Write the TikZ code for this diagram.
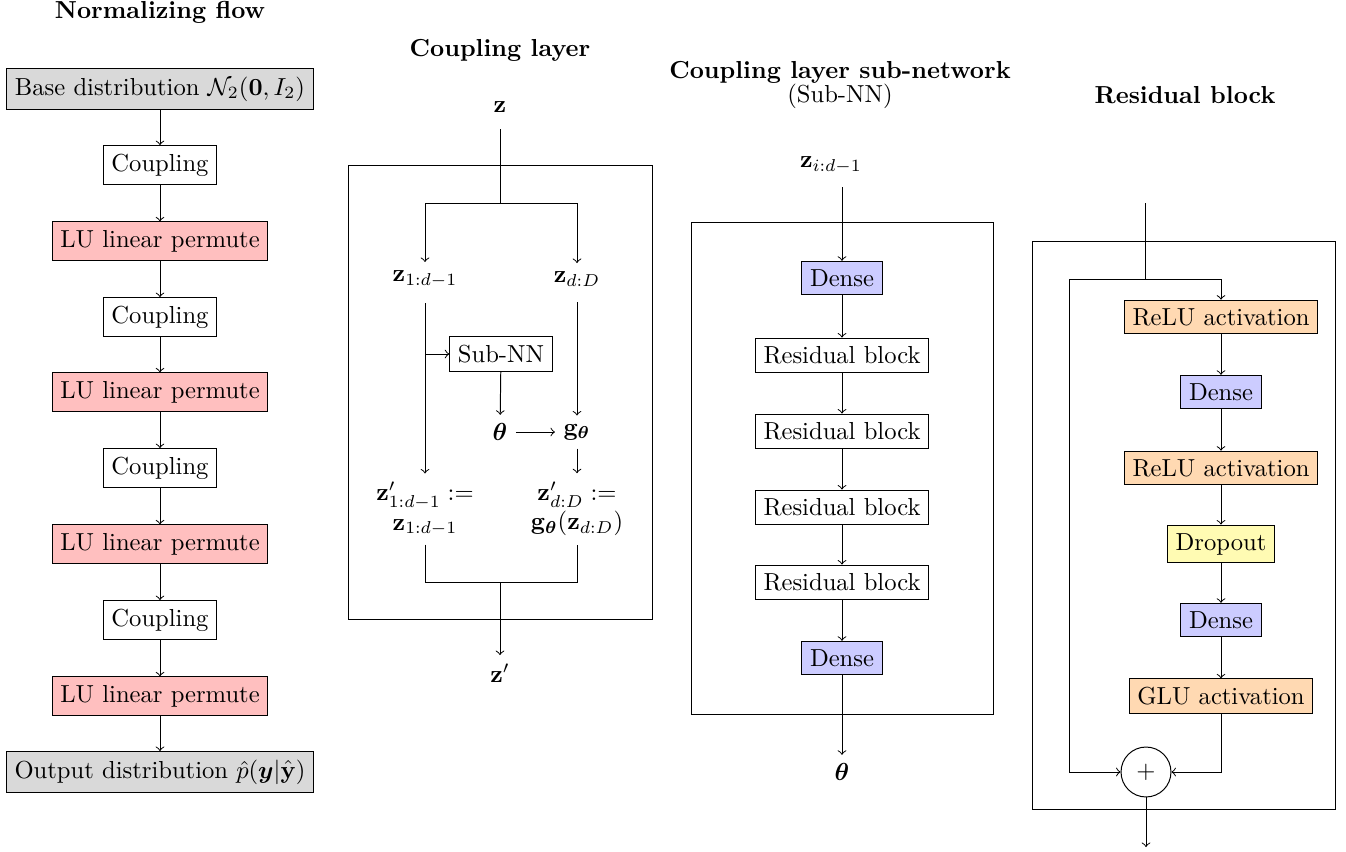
\documentclass[tikz,border=0pt]{standalone}
\usepackage{amsmath,amssymb,bm}
\begin{document}
\begin{tikzpicture}[x=0.4065pt,y=-0.4065pt,
  box/.style={draw, rectangle, inner sep=0.333em},
  base/.style={box, fill=gray!30},
  perm/.style={box, fill=red!25},
  dense/.style={box, fill=blue!20},
  act/.style={box, fill=orange!30},
  drop/.style={box, fill=yellow!30},
  title/.style={anchor=base, font=\bfseries, align=center},
  frame/.style={draw},
  lbl/.style={inner sep=0.333em},
  >=to]
\useasboundingbox (0,0) rectangle (1346,852);

% ---------------- Normalizing flow ----------------
\node[title] (t1) at (160,18) {Normalizing flow};
\node[base] (bd) at (160,89) {Base distribution $\mathcal{N}_2(\mathbf{0}, I_2)$};
\node[box]  (c1) at (160,165) {Coupling};
\node[perm] (p1) at (160,241) {LU linear permute};
\node[box]  (c2) at (160,317) {Coupling};
\node[perm] (p2) at (160,392) {LU linear permute};
\node[box]  (c3) at (160,468) {Coupling};
\node[perm] (p3) at (160,544) {LU linear permute};
\node[box]  (c4) at (160,620) {Coupling};
\node[perm] (p4) at (160,696) {LU linear permute};
\node[base] (od) at (160,772) {Output distribution $\hat{p}(\boldsymbol{y}|\hat{\mathbf{y}})$};
\foreach \a/\b in {bd/c1,c1/p1,p1/c2,c2/p2,p2/c3,c3/p3,p3/c4,c4/p4,p4/od}
  \draw[->] (\a) -- (\b);

% ---------------- Coupling layer ----------------
\node[title] (t2) at (500,56) {Coupling layer};
\draw[frame] (348,165) rectangle (652,619);
\node[lbl] (z) at (500,107) {$\mathbf{z}$};
\node[lbl] (za) at (425,279) {$\mathbf{z}_{1:d-1}$};
\node[lbl] (zb) at (577,279) {$\mathbf{z}_{d:D}$};
\node[box] (snn) at (501,354) {Sub-NN};
\node[lbl] (th) at (500,432) {$\boldsymbol{\theta}$};
\node[lbl] (g) at (577,432) {$\mathbf{g}_{\boldsymbol{\theta}}$};
\node[lbl, align=center] (za2) at (425,509) {$\mathbf{z}'_{1:d-1} :=$\\$\mathbf{z}_{1:d-1}$};
\node[lbl, align=center] (zb2) at (577,509) {$\mathbf{z}'_{d:D} :=$\\$\mathbf{g}_{\boldsymbol{\theta}}(\mathbf{z}_{d:D})$};
\node[lbl] (zp) at (500,673) {$\mathbf{z}'$};
\coordinate (split) at (500,203);
\coordinate (join) at (500,582);
\draw (z.south) ++(0,8) -- (split);
\draw[->] (split) -| (za.north);
\draw[->] (split) -| (zb.north);
\draw[->] (za.south) ++(0,7) -- (za2.north);
\draw[->] (za.south |- snn.west) -- (snn.west);
\draw[->] (snn) -- (th);
\draw[->] (zb.south) ++(0,7) -- (g.north);
\draw[->] (th) -- (g);
\draw[->] (g) -- (zb2.north);
\draw (za2.south) -- (za2.south |- join) -- (zb2.south |- join) -- (zb2.south);
\draw[->] (join) -- (zp.north);

% ---------------- Coupling layer sub-network ----------------
\node[title] (t3) at (840,102) {Coupling layer sub-network\\[-2.5pt]\normalfont(Sub-NN)};
\draw[frame] (691,222) rectangle (993,714);
\node[lbl] (zi) at (831,165) {$\mathbf{z}_{i:d-1}$};
\node[dense] (d1) at (842,278) {Dense};
\node[box] (r1) at (842,355) {Residual block};
\node[box] (r2) at (842,431) {Residual block};
\node[box] (r3) at (842,507) {Residual block};
\node[box] (r4) at (842,582) {Residual block};
\node[dense] (d2) at (842,658) {Dense};
\node[lbl] (tho) at (842,772) {$\boldsymbol{\theta}$};
\draw[->] (zi.south -| d1.north) ++(0,5) -- (d1.north);
\foreach \a/\b in {d1/r1,r1/r2,r2/r3,r3/r4,r4/d2,d2/tho}
  \draw[->] (\a) -- (\b);

% ---------------- Residual block ----------------
\node[title] (t4) at (1185,103) {Residual block};
\draw[frame] (1032,241) rectangle (1335,809);
\coordinate (rin) at (1145,203);
\coordinate (rsplit) at (1145,279);
\coordinate (rskip) at (1069,279);
\node[act] (a1) at (1221,317) {ReLU activation};
\node[dense] (e1) at (1221,392) {Dense};
\node[act] (a2) at (1221,468) {ReLU activation};
\node[drop] (dr) at (1221,544) {Dropout};
\node[dense] (e2) at (1221,620) {Dense};
\node[act] (a3) at (1221,696) {GLU activation};
\node[draw, circle, minimum size=20.3pt, inner sep=0pt] (plus) at (1146,772) {$+$};
\coordinate (rout) at (1146,847);
\draw (rin) -- (rsplit);
\draw[->] (rskip) -| (a1.north);
\foreach \a/\b in {a1/e1,e1/a2,a2/dr,dr/e2,e2/a3}
  \draw[->] (\a) -- (\b);
\draw[->] (rskip) |- (plus.west);
\draw[->] (a3.south) |- (plus.east);
\draw[->] (plus) -- (rout);
\end{tikzpicture}
\end{document}
